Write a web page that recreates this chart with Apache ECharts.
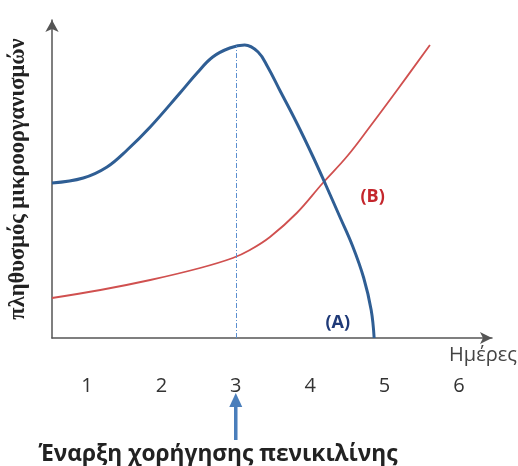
<!DOCTYPE html>
<html><head><meta charset="utf-8">
<script src="https://cdn.jsdelivr.net/npm/echarts@6/dist/echarts.min.js"></script>
<style>html,body{margin:0;padding:0;background:#fff}#c{width:518px;height:466px}</style>
</head><body><div id="c"></div>
<script>
const dayTicks = [1, 2, 3, 4, 5, 6];
const curveA_days   = [0.53, 0.95, 1.27, 1.54, 1.85, 2.25, 2.48, 2.69, 2.92, 3.12, 3.30, 3.43, 3.59, 3.82, 4.04, 4.21, 4.40, 4.57, 4.72, 4.82, 4.86];
const curveA_values = [155,  160,  171,  188,  211,  245,  265,  281,  290,  293,  286,  271,  248,  215,  181,  153,  121,  92,   60,   28,   0];
const curveB_days   = [0.53, 1.18, 1.85, 2.52, 2.96, 3.19, 3.46, 3.82, 4.17, 4.50, 4.80, 5.17, 5.61];
const curveB_values = [40,   48,   58,   70,   80,   88,   101,  125,  155,  182,  211,  248,  293];
const penicillinDay = 3;
const penicillinPeak = 292;
const labelA = {day: 4.37, value: 15, text: '(A)'};
const labelB = {day: 4.84, value: 141, text: '(B)'};
const yTitle = 'πληθυσμός μικροοργανισμών';
const xTitle = 'Ημέρες';
const noteText = 'Έναρξη χορήγησης πενικιλίνης';

const chart = echarts.init(document.getElementById('c'));
const zipXY = (xs, ys) => xs.map((x, i) => [x, ys[i]]);
const axisColor = '#555';
chart.setOption({
  animation: false,
  grid: {left: 52, right: 26, top: 20, bottom: 128, containLabel: false, outerBoundsMode: 'none'},
  xAxis: {
    type: 'value', min: 0.53, max: 6.444,
    axisLine: {show: true, onZero: false, symbol: ['none', 'arrow'], symbolSize: [9, 12], lineStyle: {color: axisColor, width: 1.5}},
    axisTick: {show: false},
    splitLine: {show: false},
    axisLabel: {show: true, customValues: dayTicks, margin: 38, fontSize: 20, color: '#333', fontFamily: 'Open Sans'}
  },
  yAxis: {
    type: 'value', min: 0, max: 318,
    name: yTitle, nameLocation: 'middle', nameRotate: 90, nameGap: 22,
    nameTextStyle: {fontSize: 22.5, fontWeight: 'bold', color: '#222', fontFamily: 'Liberation Serif'},
    axisLine: {show: true, symbol: ['none', 'arrow'], symbolSize: [10, 12], lineStyle: {color: axisColor, width: 1.5}},
    axisTick: {show: false},
    splitLine: {show: false},
    axisLabel: {show: false}
  },
  series: [
    {
      type: 'line', data: zipXY(curveA_days, curveA_values), smooth: 0.4, showSymbol: false,
      lineStyle: {color: '#2f5e94', width: 3}, z: 3,
      markLine: {
        silent: true, symbol: ['none', 'none'], label: {show: false},
        lineStyle: {color: '#5b8fd0', width: 1, type: [5, 2, 1, 2]},
        data: [[{coord: [penicillinDay, 0]}, {coord: [penicillinDay, penicillinPeak]}]]
      },
      markPoint: {
        symbol: 'circle', symbolSize: 0,
        label: {show: true, position: 'inside', formatter: labelA.text, fontSize: 18, fontWeight: 'bold', color: '#1f3a78', fontFamily: 'Open Sans'},
        data: [{coord: [labelA.day, labelA.value]}]
      }
    },
    {
      type: 'line', data: zipXY(curveB_days, curveB_values), smooth: 0.4, showSymbol: false,
      lineStyle: {color: '#d0504f', width: 1.8}, z: 2,
      markPoint: {
        symbol: 'circle', symbolSize: 0,
        label: {show: true, position: 'inside', formatter: labelB.text, fontSize: 18, fontWeight: 'bold', color: '#c4262c', fontFamily: 'Open Sans'},
        data: [{coord: [labelB.day, labelB.value]}]
      }
    }
  ]
});

const ax = chart.convertToPixel({gridIndex: 0}, [penicillinDay, 0])[0];
const endPix = chart.convertToPixel({gridIndex: 0}, [6.444, 0]);
chart.setOption({
  graphic: [
    {type: 'text', x: 517, y: endPix[1] + 17, style: {text: xTitle, fontSize: 20, fill: '#444', fontFamily: 'Open Sans', align: 'right', verticalAlign: 'middle'}},
    {type: 'line', shape: {x1: ax, y1: 440, x2: ax, y2: 404}, style: {stroke: '#4a7ebb', lineWidth: 3.5}},
    {type: 'polygon', shape: {points: [[ax, 393], [ax - 6.5, 407], [ax + 6.5, 407]]}, style: {fill: '#4a7ebb'}},
    {type: 'text', x: 218, y: 455, style: {text: noteText, fontSize: 22.7, fontWeight: 'bold', fill: '#222', fontFamily: 'Open Sans', align: 'center', verticalAlign: 'middle'}}
  ]
});
</script>
</body></html>
